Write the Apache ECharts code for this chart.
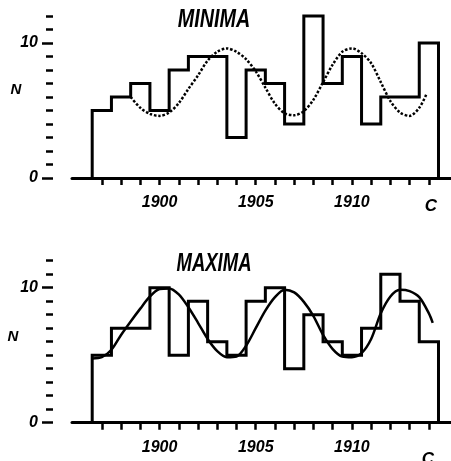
<!DOCTYPE html>
<html>
<head>
<meta charset="utf-8">
<script src="https://cdn.jsdelivr.net/npm/echarts@6/dist/echarts.min.js"></script>
<style>
  html, body { margin: 0; padding: 0; background: #fff; }
  #chart { width: 451px; height: 461px; }
</style>
</head>
<body>
<div id="chart"></div>
<script>
// Yearly counts (N) of minima and maxima, 1897-1914
const years = [1897, 1898, 1899, 1900, 1901, 1902, 1903, 1904, 1905,
               1906, 1907, 1908, 1909, 1910, 1911, 1912, 1913, 1914];
const minimaCounts = [5, 6, 7, 5, 8, 9, 9, 3, 8, 7, 4, 12, 7, 9, 4, 6, 6, 10];
const maximaCounts = [5, 7, 7, 10, 5, 9, 6, 5, 9, 10, 4, 8, 6, 5, 7, 11, 9, 6];

// Fitted periodic curves
const minimaFitYears = [1898.5, 1899.0, 1899.5, 1900.0, 1900.5, 1901.0, 1901.5, 1902.0,
  1902.5, 1903.0, 1903.5, 1904.0, 1904.5, 1905.0, 1905.5, 1906.0, 1906.5, 1907.0,
  1907.5, 1908.0, 1908.5, 1909.0, 1909.5, 1910.0, 1910.5, 1911.0, 1911.5, 1912.0,
  1912.5, 1913.0, 1913.5, 1913.9];
const minimaFitValues = [6.0, 5.2, 4.75, 4.6, 4.85, 5.55, 6.6, 7.6,
  8.7, 9.35, 9.6, 9.35, 8.8, 7.9, 6.7, 5.5, 4.8, 4.65,
  4.95, 5.8, 7.1, 8.4, 9.35, 9.6, 9.25, 8.5, 7.1, 5.7,
  4.85, 4.6, 5.2, 6.3];

const maximaFitYears = [1896.5, 1897.0, 1897.5, 1898.0, 1898.5, 1899.0, 1899.5, 1900.0,
  1900.5, 1901.0, 1901.5, 1902.0, 1902.5, 1903.0, 1903.5, 1904.0, 1904.5, 1905.0,
  1905.5, 1906.0, 1906.5, 1907.0, 1907.5, 1908.0, 1908.5, 1909.0, 1909.5, 1910.0,
  1910.5, 1911.0, 1911.5, 1912.0, 1912.5, 1913.0, 1913.5, 1914.0, 1914.2];
const maximaFitValues = [4.75, 4.85, 5.4, 6.5, 7.5, 8.45, 9.35, 9.9,
  9.95, 9.5, 8.55, 7.4, 6.2, 5.3, 4.85, 4.9, 5.7, 7.0,
  8.3, 9.3, 9.85, 9.65, 8.95, 7.9, 6.5, 5.45, 4.9, 4.85,
  5.15, 6.2, 8.1, 9.35, 9.85, 9.75, 9.3, 8.1, 7.4];

const yearTicks = years;
const yearLabels = [1900, 1905, 1910];
const countTicks = [0, 1, 2, 3, 4, 5, 6, 7, 8, 9, 10, 11, 12];
const countLabels = [0, 10];

// Outline of a histogram whose bins are centred on each year
function histogramOutline(counts) {
  const pts = [[years[0] - 0.5, 0]];
  counts.forEach((v, i) => {
    pts.push([years[i] - 0.5, v]);
    pts.push([years[i] + 0.5, v]);
  });
  pts.push([years[years.length - 1] + 0.5, 0]);
  return pts;
}
function pairs(xs, ys) { return xs.map((x, i) => [x, ys[i]]); }

const FONT = "'Liberation Sans', Arial, sans-serif";
const INK = '#000';

function xAxisFor(gridIndex) {
  return {
    type: 'value', gridIndex: gridIndex, min: 1895.45, max: 1915.15,
    axisLine: { show: true, onZero: false, lineStyle: { color: INK, width: 3 } },
    axisTick: { show: true, customValues: yearTicks, length: 7, lineStyle: { color: INK, width: 2.5 } },
    axisLabel: { show: true, customValues: yearLabels, margin: 17, color: INK,
      formatter: v => String(v),
      fontFamily: FONT, fontSize: 16, fontWeight: 'bold', fontStyle: 'italic' },
    splitLine: { show: false }
  };
}
function minorYAxisFor(gridIndex) {
  return {
    type: 'value', gridIndex: gridIndex, min: 0, max: 12, position: 'left', offset: 19,
    axisLine: { show: false },
    axisTick: { show: true, customValues: countTicks, length: 7, lineStyle: { color: INK, width: 2.5 } },
    axisLabel: { show: false },
    splitLine: { show: false }
  };
}
function majorYAxisFor(gridIndex) {
  return {
    type: 'value', gridIndex: gridIndex, min: 0, max: 12, position: 'left', offset: 19,
    axisLine: { show: false },
    axisTick: { show: true, customValues: countLabels, length: 11, lineStyle: { color: INK, width: 2.5 } },
    axisLabel: { show: true, customValues: countLabels, margin: 15, color: INK,
      formatter: v => String(v),
      verticalAlign: 'middle', padding: [0, 0, 10, 0],
      fontFamily: FONT, fontSize: 16, fontWeight: 'bold', fontStyle: 'italic' },
    splitLine: { show: false }
  };
}
function label(text, x, y, size, scaleX) {
  return {
    type: 'text', x: x, y: y, scaleX: scaleX || 1, z: 10,
    style: {
      text: text, fill: INK,
      font: 'italic bold ' + size + 'px ' + FONT,
      align: 'center', verticalAlign: 'middle',
      textAlign: 'center', textVerticalAlign: 'middle'
    }
  };
}

const chart = echarts.init(document.getElementById('chart'), null, { renderer: 'canvas' });
chart.setOption({
  animation: false,
  backgroundColor: '#fff',
  grid: [
    { left: 72, right: 0, top: 16, height: 162 },
    { left: 72, right: 0, top: 260.7, height: 162 }
  ],
  xAxis: [xAxisFor(0), xAxisFor(1)],
  yAxis: [minorYAxisFor(0), majorYAxisFor(0), minorYAxisFor(1), majorYAxisFor(1)],
  graphic: [
    label('MINIMA', 214, 20, 25, 0.79),
    label('MAXIMA', 214, 264, 25, 0.74),
    label('N', 16, 90, 15),
    label('N', 13, 337, 15),
    label('C', 431, 206, 17),
    label('C', 428, 459, 17)
  ],
  series: [
    {
      name: 'MINIMA', type: 'line', xAxisIndex: 0, yAxisIndex: 0,
      data: histogramOutline(minimaCounts), symbol: 'none', clip: false,
      lineStyle: { color: INK, width: 3, join: 'miter' }
    },
    {
      name: 'MINIMA fit', type: 'line', xAxisIndex: 0, yAxisIndex: 0,
      data: pairs(minimaFitYears, minimaFitValues), symbol: 'none', smooth: 0.3,
      lineStyle: { color: INK, width: 2.5, type: [2.5, 1.8], cap: 'butt' }
    },
    {
      name: 'MAXIMA', type: 'line', xAxisIndex: 1, yAxisIndex: 2,
      data: histogramOutline(maximaCounts), symbol: 'none', clip: false,
      lineStyle: { color: INK, width: 3, join: 'miter' }
    },
    {
      name: 'MAXIMA fit', type: 'line', xAxisIndex: 1, yAxisIndex: 2,
      data: pairs(maximaFitYears, maximaFitValues), symbol: 'none', smooth: 0.3,
      lineStyle: { color: INK, width: 2.5 }
    }
  ]
});
</script>
</body>
</html>
